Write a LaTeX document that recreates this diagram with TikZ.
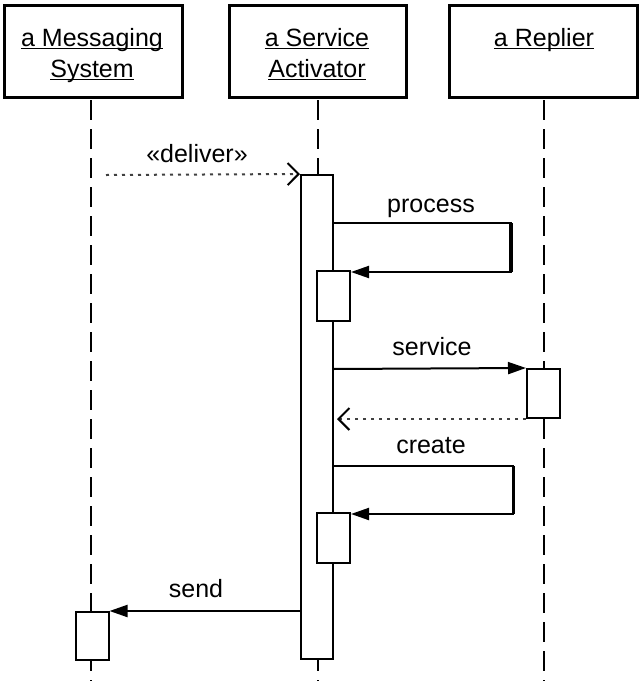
\documentclass[tikz,border=0pt]{standalone}
\usepackage{fontspec}
\setmainfont{Liberation Sans}
\usetikzlibrary{arrows.meta}
\begin{document}
\begin{tikzpicture}[x=1pt,y=-1pt,
  every node/.style={font=\fontsize{25}{29}\selectfont},
  head/.style={draw, line width=3pt, inner sep=0pt, fill=white, minimum height=92pt},
  lbl/.style={inner sep=0pt, anchor=base},
  uline/.style={line width=1.5pt},
  life/.style={line width=2pt, dash pattern=on 20pt off 9pt},
  act/.style={draw, line width=2pt, fill=white, inner sep=0pt, minimum width=33pt},
  msg/.style={line width=2pt, -{Triangle[length=18pt,width=12pt]}},
  ret/.style={line width=2pt, black!75, dash pattern=on 3pt off 5pt,
    -{Straight Barb[length=11pt,width=22pt,line width=2pt,black]}}
]
\useasboundingbox (0,0) rectangle (639,681);

% header boxes
\node[head, minimum width=178pt] (hm) at (93,51) {};
\node[head, minimum width=177pt] (hs) at (317.5,51) {};
\node[head, minimum width=188pt] (hr) at (543,51) {};

% header texts
\node[lbl] (tm1) at (92,46) {a Messaging};
\node[lbl] (tm2) at (92,77) {System};
\node[lbl] (ts1) at (317,46) {a Service};
\node[lbl] (ts2) at (317,77) {Activator};
\node[lbl] (tr1) at (544,46) {a Replier};
\foreach \t in {tm1,tm2,ts1,ts2,tr1}
  \draw[uline] ([yshift=-2.5pt]\t.base west) -- ([yshift=-2.5pt]\t.base east);

% lifelines
\coordinate (l1a) at (91,100);  \coordinate (l1b) at (91,681);
\coordinate (l2a) at (318,100); \coordinate (l2b) at (318,681);
\coordinate (l3a) at (544,100); \coordinate (l3b) at (544,681);
\draw[life] (l1a) -- (l1b);
\draw[life] (l2a) -- (l2b);
\draw[life] (l3a) -- (l3b);

% activation bars
\node[act, minimum width=32pt, minimum height=484pt] (sa) at (317,417) {};
\node[act, minimum height=50pt] (n1) at (333.5,296) {};
\node[act, minimum height=50pt] (n2) at (333.5,538) {};
\node[act, minimum height=49pt] (rb) at (543.5,393.5) {};
\node[act, minimum height=48pt] (mb) at (92,636) {};

% deliver
\coordinate (ds) at (106,175);
\draw[ret] (ds) -- (sa.north west);
\node[lbl] (ldel) at (197,162) {«deliver»};

% process (self call)
\coordinate (p0) at (333,223);
\coordinate (p1) at (511,223);
\coordinate (p2) at (511,272);
\draw[msg] (p0) -- (p1) -- (p2) -- (n1.east |- p2);
\draw[line width=3.5pt] (p1) -- (p2);
\node[lbl] (lpro) at (431,212) {process};

% service
\coordinate (s0) at (333,369);
\draw[msg] (s0) -- (rb.north west);
\node[lbl] (lser) at (432,355) {service};

% reply
\draw[ret, shorten >=3pt] (rb.south west) -- (sa.east |- rb.south west);

% create (self call)
\coordinate (c0) at (334,466);
\coordinate (c1) at (513,466);
\coordinate (c2) at (513,514);
\draw[msg] (c0) -- (c1) -- (c2) -- (n2.east |- c2);
\draw[line width=3pt] (c1) -- (c2);
\node[lbl] (lcre) at (431,453) {create};

% send
\draw[msg] (sa.west |- mb.north) -- (mb.north east);
\node[lbl] (lsen) at (196,597) {send};
\end{tikzpicture}
\end{document}
